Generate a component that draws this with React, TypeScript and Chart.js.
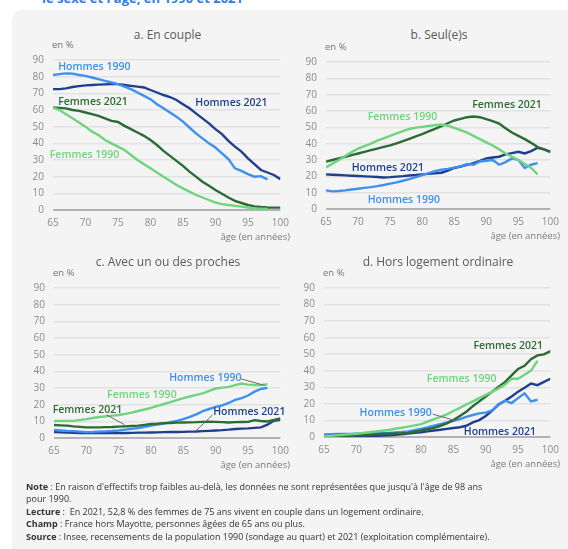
import React, { useEffect, useRef } from "react";
import { Chart, registerables } from "chart.js";
Chart.register(...registerables);

const FONT = "'Open Sans', 'Noto Sans', sans-serif";

// Ages
const AGES_2021 = [65, 66, 67, 68, 69, 70, 71, 72, 73, 74, 75, 76, 77, 78, 79, 80, 81, 82, 83, 84, 85, 86, 87, 88, 89, 90, 91, 92, 93, 94, 95, 96, 97, 98, 99, 100];
const AGES_1990 = [65, 66, 67, 68, 69, 70, 71, 72, 73, 74, 75, 76, 77, 78, 79, 80, 81, 82, 83, 84, 85, 86, 87, 88, 89, 90, 91, 92, 93, 94, 95, 96, 97, 98];
const X_TICKS = [65, 70, 75, 80, 85, 90, 95, 100];
const Y_TICKS = [0, 10, 20, 30, 40, 50, 60, 70, 80, 90];

// a. En couple
const COUPLE_H1990 = [81, 81.5, 82, 81.8, 81, 80.5, 79.5, 78.5, 77.5, 76.5, 75.5, 74, 72.5, 70.5, 68.5, 66.5, 63.5, 61, 58.5, 56, 53, 49.5, 46, 43, 40, 37.5, 34, 30.5, 25, 23.5, 21.5, 20, 20.3, 18.4];
const COUPLE_H2021 = [72.5, 72.5, 73, 73.8, 74.3, 74.8, 75, 75.2, 75.4, 75.6, 75.5, 75, 74.5, 74, 73.5, 72, 70.5, 69, 67.8, 66, 63.5, 61, 58, 55, 52, 48.5, 45.5, 41.5, 38, 35, 31, 27.5, 24, 22.5, 21, 18.5];
const COUPLE_F2021 = [61.5, 61.3, 61, 60, 59.5, 58.5, 57.5, 56.5, 55, 53.5, 52.8, 50.5, 48.5, 46.5, 44.5, 42, 39, 35.5, 32.5, 29.5, 26.5, 23, 20, 17, 14.5, 12, 9.7, 7.5, 5.5, 4.2, 3, 2.2, 1.8, 1.5, 1.4, 1.4];
const COUPLE_F1990 = [61.5, 60, 57.5, 55, 52.5, 50, 47, 45, 42, 40, 38, 36, 33, 30, 27.5, 25, 22.5, 20, 17.5, 15, 13, 11, 9, 7.5, 6, 4.5, 3.5, 3, 2.5, 2, 1.5, 1, 0.8, 0.6];

// b. Seul(e)s
const SEUL_H1990 = [11.4, 10.8, 11, 11.4, 11.9, 12.4, 12.9, 13.4, 14, 14.7, 15.5, 16.3, 17.3, 18.3, 19.5, 20.8, 22, 23.2, 24, 24.6, 25.3, 26.1, 27.5, 27.1, 29.1, 29.5, 30, 27.1, 28.7, 31, 30, 25.1, 27.1, 28.1];
const SEUL_H2021 = [21.2, 21, 20.8, 20.6, 20.4, 20.2, 20, 19.8, 19.6, 19.3, 19.5, 19.8, 20.1, 20.5, 20.8, 21.2, 21.5, 21.8, 22.2, 23.5, 25.1, 26, 27, 28.1, 29.5, 31, 31.5, 32, 33.4, 34.2, 35, 34, 35.4, 37.5, 36.5, 35];
const SEUL_F2021 = [29, 30, 31, 32, 33, 34, 35, 36, 37, 38, 38.9, 40.2, 41.5, 43, 44.4, 45.8, 47.5, 49, 50.7, 52.5, 54.2, 55.2, 56.2, 56.6, 56.2, 55, 53.8, 52.3, 49.5, 46.8, 44.8, 42.8, 40.5, 37.9, 36.5, 35];
const SEUL_F1990 = [25.5, 27.8, 30, 32.5, 34.8, 37, 38.5, 40, 41.8, 43.3, 44.8, 46.3, 47.7, 49, 49.8, 50.3, 50.8, 51.3, 51.7, 51, 49.7, 48.3, 46.8, 44.8, 42.8, 40.8, 38.9, 36.5, 34, 32, 30, 27.5, 25.1, 21.2];

// c. Avec un ou des proches
const PROCHES_H1990 = [4.9, 4.6, 4.3, 4.1, 3.8, 3.5, 3.6, 3.8, 4, 4.2, 4.5, 5, 5.5, 6, 6.7, 7.4, 8, 8.7, 9.5, 10.3, 11.3, 12.7, 14.2, 16.1, 17.4, 18.7, 19.6, 21, 22.9, 23.9, 25.5, 27.8, 29.4, 30.1];
const PROCHES_H2021 = [3.5, 3.4, 3.2, 3.1, 3, 2.9, 2.9, 2.9, 2.9, 2.9, 2.9, 3, 3.1, 3.2, 3.2, 3.3, 3.4, 3.5, 3.6, 3.6, 3.7, 3.8, 3.9, 4.1, 4.3, 4.5, 4.7, 5, 5.4, 5.6, 5.8, 6.1, 6.4, 8, 10.3, 10.9];
const PROCHES_F2021 = [7.8, 7.6, 7.4, 7, 6.7, 6.4, 6.4, 6.4, 6.5, 6.6, 6.8, 7, 7.2, 7.4, 7.9, 8.4, 8.6, 8.9, 9, 9.2, 9.3, 9.4, 9.5, 9.7, 9.8, 9.7, 9.5, 9.3, 9.5, 9.6, 9.7, 10.7, 10.2, 9.9, 10.8, 11.7];
const PROCHES_F1990 = [10.3, 10.3, 10.3, 10.3, 10.8, 11.3, 12, 12.6, 13, 13.4, 13.8, 14.5, 15.2, 16.2, 17.1, 18.1, 19.3, 20.4, 21.5, 22.7, 23.9, 24.9, 25.9, 26.8, 28.3, 29.7, 30.2, 30.7, 31.7, 32.7, 32, 31.8, 31.7, 32.3];

// d. Hors logement ordinaire
const HORS_H1990 = [1.6, 1.7, 1.8, 1.8, 1.9, 2, 2.1, 2.2, 2.3, 2.4, 2.5, 2.8, 3, 3.3, 4.1, 4.9, 5.8, 6.8, 7.8, 8.8, 9.8, 10.8, 12.1, 13.3, 14.3, 14.7, 16, 20, 21.9, 20.5, 23.5, 26.4, 21.5, 22.5];
const HORS_H2021 = [0, 0.1, 0.2, 0.3, 0.3, 0.4, 0.5, 0.6, 0.7, 0.8, 1, 1.3, 1.7, 2.1, 2.5, 2.9, 3.4, 3.9, 4.4, 4.9, 5.4, 5.9, 6.8, 8.8, 10.2, 12.7, 16, 19.6, 21.9, 24.5, 27.4, 29.7, 32.3, 31.3, 33.3, 35.2];
const HORS_F2021 = [0, 0.2, 0.4, 0.6, 0.8, 1, 1.2, 1.4, 1.6, 1.8, 2, 2.2, 2.3, 2.5, 3.2, 3.9, 4.7, 5.5, 6.8, 8.2, 10.2, 12.7, 15.3, 18.6, 21.5, 24.5, 27.4, 30.3, 33.3, 37.2, 41.1, 43, 47, 49.3, 49.9, 51.9];
const HORS_F1990 = [0.3, 0.6, 1, 1.3, 1.7, 2, 2.4, 2.9, 3.3, 3.8, 4.3, 5, 5.6, 6.3, 7, 7.8, 9.3, 10.8, 12.2, 13.7, 15.7, 17.6, 19.6, 21.5, 23.5, 25.4, 27.4, 29.4, 31.7, 35.2, 35.2, 37.6, 40.1, 46];

const COL_H1990 = "#3d8ff0";
const COL_H2021 = "#1f3f8c";
const COL_F2021 = "#2b6c34";
const COL_F1990 = "#6fd47d";

type Series = { ages: number[]; values: number[]; color: string };
type Label = { text: string; x: number; y: number; color: string };
type Leader = [number, number, number, number];
type Geom = { left: number; right: number; top: number; bottom: number; titleTop: number };

const PANELS: { title: string; geom: Geom; series: Series[]; labels: Label[]; leaders: Leader[] }[] = [
  {
    title: "a. En couple",
    geom: { left: 53, right: 282, top: 55, bottom: 210, titleTop: 27 },
    series: [
      { ages: AGES_1990, values: COUPLE_F1990, color: COL_F1990 },
      { ages: AGES_2021, values: COUPLE_F2021, color: COL_F2021 },
      { ages: AGES_1990, values: COUPLE_H1990, color: COL_H1990 },
      { ages: AGES_2021, values: COUPLE_H2021, color: COL_H2021 },
    ],
    labels: [
      { text: "Hommes 1990", x: 65.8, y: 85.5, color: COL_H1990 },
      { text: "Hommes 2021", x: 86.9, y: 63.9, color: COL_H2021 },
      { text: "Femmes 2021", x: 65.8, y: 64.6, color: COL_F2021 },
      { text: "Femmes 1990", x: 64.5, y: 32.9, color: COL_F1990 },
    ],
    leaders: [],
  },
  {
    title: "b. Seul(e)s",
    geom: { left: 326, right: 552, top: 57, bottom: 209, titleTop: 27 },
    series: [
      { ages: AGES_1990, values: SEUL_F1990, color: COL_F1990 },
      { ages: AGES_2021, values: SEUL_F2021, color: COL_F2021 },
      { ages: AGES_1990, values: SEUL_H1990, color: COL_H1990 },
      { ages: AGES_2021, values: SEUL_H2021, color: COL_H2021 },
    ],
    labels: [
      { text: "Femmes 1990", x: 71.5, y: 56.1, color: COL_F1990 },
      { text: "Femmes 2021", x: 87.8, y: 63.5, color: COL_F2021 },
      { text: "Hommes 2021", x: 69.0, y: 25.0, color: COL_H2021 },
      { text: "Hommes 1990", x: 71.5, y: 5.7, color: COL_H1990 },
    ],
    leaders: [],
  },
  {
    title: "c. Avec un ou des proches",
    geom: { left: 54, right: 282, top: 283, bottom: 438, titleTop: 254 },
    series: [
      { ages: AGES_1990, values: PROCHES_F1990, color: COL_F1990 },
      { ages: AGES_2021, values: PROCHES_F2021, color: COL_F2021 },
      { ages: AGES_1990, values: PROCHES_H1990, color: COL_H1990 },
      { ages: AGES_2021, values: PROCHES_H2021, color: COL_H2021 },
    ],
    labels: [
      { text: "Hommes 1990", x: 82.8, y: 36.0, color: COL_H1990 },
      { text: "Femmes 1990", x: 73.2, y: 26.0, color: COL_F1990 },
      { text: "Femmes 2021", x: 64.8, y: 16.7, color: COL_F2021 },
      { text: "Hommes 2021", x: 89.6, y: 15.3, color: COL_H2021 },
    ],
    leaders: [
      [93.8, 35.6, 97.7, 31.4],
      [73.1, 13.9, 75.9, 8.0],
      [89.5, 13.8, 86.9, 4.2],
    ],
  },
  {
    title: "d. Hors logement ordinaire",
    geom: { left: 324, right: 552, top: 283, bottom: 437, titleTop: 254 },
    series: [
      { ages: AGES_1990, values: HORS_F1990, color: COL_F1990 },
      { ages: AGES_2021, values: HORS_F2021, color: COL_F2021 },
      { ages: AGES_1990, values: HORS_H1990, color: COL_H1990 },
      { ages: AGES_2021, values: HORS_H2021, color: COL_H2021 },
    ],
    labels: [
      { text: "Femmes 2021", x: 88.1, y: 54.8, color: COL_F2021 },
      { text: "Femmes 1990", x: 80.9, y: 35.2, color: COL_F1990 },
      { text: "Hommes 1990", x: 70.5, y: 14.2, color: COL_H1990 },
      { text: "Hommes 2021", x: 86.6, y: 3.1, color: COL_H2021 },
    ],
    leaders: [[81.8, 13.8, 85.3, 9.9]],
  },
];

const CANVAS_LEFT_GAP = 43;
const PAD_TOP = 10;
const PAD_RIGHT = 14;
const X_AXIS_H = 28;

function Panel({ p }: { p: (typeof PANELS)[number] }) {
  const ref = useRef<HTMLCanvasElement>(null);
  const g = p.geom;
  const cLeft = g.left - CANVAS_LEFT_GAP;
  const cTop = g.top - PAD_TOP;
  const cW = g.right + PAD_RIGHT - cLeft;
  const cH = g.bottom - cTop + X_AXIS_H;

  useEffect(() => {
    const labelPlugin = {
      id: "seriesLabels",
      afterDatasetsDraw(chart: any) {
        const ctx = chart.ctx;
        const xs = chart.scales.x;
        const ys = chart.scales.y;
        ctx.save();
        ctx.strokeStyle = "#6b6b6b";
        ctx.lineWidth = 1;
        for (const l of p.leaders) {
          ctx.beginPath();
          ctx.moveTo(xs.getPixelForValue(l[0]), ys.getPixelForValue(l[1]));
          ctx.lineTo(xs.getPixelForValue(l[2]), ys.getPixelForValue(l[3]));
          ctx.stroke();
        }
        ctx.font = `600 10.5px ${FONT}`;
        ctx.textAlign = "left";
        ctx.textBaseline = "middle";
        for (const l of p.labels) {
          ctx.fillStyle = l.color;
          ctx.fillText(l.text, xs.getPixelForValue(l.x), ys.getPixelForValue(l.y));
        }
        ctx.restore();
      },
    };
    const chart = new Chart(ref.current as HTMLCanvasElement, {
      type: "line",
      data: {
        datasets: p.series.map((s) => ({
          data: s.values.map((v, i) => ({ x: s.ages[i], y: v })),
          borderColor: s.color,
          backgroundColor: s.color,
          borderWidth: 2.4,
          pointRadius: 0,
          tension: 0,
          fill: false,
        })),
      },
      options: {
        animation: false,
        responsive: false,
        maintainAspectRatio: false,
        layout: { padding: { top: PAD_TOP, right: PAD_RIGHT, left: 0, bottom: 0 } },
        plugins: { legend: { display: false }, tooltip: { enabled: false } },
        scales: {
          x: {
            type: "linear",
            min: 65,
            max: 100,
            afterBuildTicks: (s: any) => {
              s.ticks = X_TICKS.map((v) => ({ value: v }));
            },
            ticks: {
              color: "#8c8c8c",
              font: { size: 10, family: FONT },
              padding: 7,
              maxRotation: 0,
              autoSkip: false,
            },
            grid: { display: false, drawTicks: false },
            border: { display: false },
            afterFit: (s: any) => {
              s.height = X_AXIS_H;
            },
          },
          y: {
            min: 0,
            max: 90,
            afterBuildTicks: (s: any) => {
              s.ticks = Y_TICKS.map((v) => ({ value: v }));
            },
            ticks: {
              color: "#8c8c8c",
              font: { size: 10, family: FONT },
              padding: 9,
            },
            grid: {
              drawTicks: false,
              color: (c: any) => (c.tick && c.tick.value === 0 ? "#b3b3b3" : "#e2e2e2"),
              lineWidth: (c: any) => (c.tick && c.tick.value === 0 ? 2 : 1.5),
            },
            border: { display: false },
            afterFit: (s: any) => {
              s.width = CANVAS_LEFT_GAP;
            },
          },
        },
      } as any,
      plugins: [labelPlugin],
    });
    return () => chart.destroy();
  }, []);

  return (
    <>
      <div
        style={{
          position: "absolute",
          left: (g.left + g.right) / 2 - 100,
          width: 200,
          top: g.titleTop,
          textAlign: "center",
          font: `12px ${FONT}`,
          color: "#5a5a5a",
          lineHeight: "16px",
        }}
      >
        {p.title}
      </div>
      <div
        style={{
          position: "absolute",
          left: g.left - 1,
          top: g.top - 16,
          font: `9.5px ${FONT}`,
          color: "#777",
          lineHeight: "12px",
        }}
      >
        en %
      </div>
      <canvas
        ref={ref}
        width={cW}
        height={cH}
        style={{ position: "absolute", left: cLeft, top: cTop, width: cW, height: cH }}
      />
      <div
        style={{
          position: "absolute",
          left: g.right + 8 - 150,
          width: 150,
          top: g.bottom + 21,
          textAlign: "right",
          font: `9.5px ${FONT}`,
          color: "#7a7a7a",
          lineHeight: "12px",
        }}
      >
        âge (en années)
      </div>
    </>
  );
}

export default function App() {
  const noteStyle: React.CSSProperties = { whiteSpace: "nowrap", height: 12.4 };
  return (
    <div
      style={{
        position: "absolute",
        left: 0,
        top: 0,
        width: 568,
        height: 549,
        overflow: "hidden",
        background: "#ffffff",
        fontFamily: FONT,
      }}
    >
      <div
        style={{
          position: "absolute",
          left: 42,
          top: -10,
          font: `bold 13px ${FONT}`,
          color: "#2f7de1",
          whiteSpace: "nowrap",
          lineHeight: "16px",
        }}
      >
        le sexe et l'âge, en 1990 et 2021
      </div>
      <div
        style={{
          position: "absolute",
          left: 12,
          top: 10,
          width: 580,
          height: 560,
          background: "#f4f4f4",
          borderRadius: 10,
        }}
      />
      {PANELS.map((p, i) => (
        <Panel key={i} p={p} />
      ))}
      <div
        style={{
          position: "absolute",
          left: 26,
          top: 481,
          font: `9px ${FONT}`,
          color: "#333",
          lineHeight: "12.4px",
        }}
      >
        <div style={noteStyle}>
          <b>Note</b> : En raison d'effectifs trop faibles au-delà, les données ne sont représentées que jusqu'à l'âge de 98 ans
        </div>
        <div style={noteStyle}>pour 1990.</div>
        <div style={noteStyle}>
          <b>Lecture</b> :&nbsp; En 2021, 52,8 % des femmes de 75 ans vivent en couple dans un logement ordinaire.
        </div>
        <div style={noteStyle}>
          <b>Champ</b> : France hors Mayotte, personnes âgées de 65 ans ou plus.
        </div>
        <div style={noteStyle}>
          <b>Source</b> : Insee, recensements de la population 1990 (sondage au quart) et 2021 (exploitation complémentaire).
        </div>
      </div>
    </div>
  );
}
